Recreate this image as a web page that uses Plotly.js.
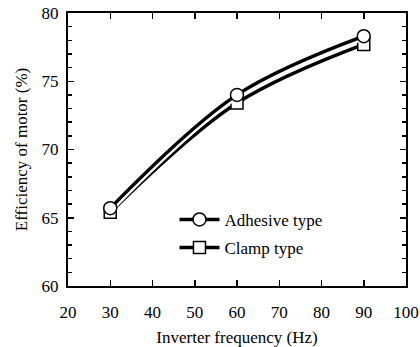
<!DOCTYPE html>
<html><head><meta charset="utf-8">
<script src="https://cdn.plot.ly/plotly-3.0.1.min.js"></script>
<style>html,body{margin:0;padding:0;background:#fff}
#chart text{font-family:'Liberation Serif',serif !important;fill:#000 !important}</style>
</head><body><div id="chart" style="width:420px;height:347px"></div>
<script>
const frequency = [30, 60, 90];
const adhesiveEff = [65.7, 74.0, 78.3];
const clampEff = [65.4, 73.4, 77.7];
const xTicks = [20, 30, 40, 50, 60, 70, 80, 90, 100];
const yTicks = [60, 65, 70, 75, 80];

function halo(y) {
  return {x: frequency, y: y, mode: 'lines', showlegend: false, hoverinfo: 'skip',
          line: {color: '#fff', width: 8, shape: 'spline', smoothing: 1}};
}

const traces = [
  halo(clampEff),
  {x: frequency, y: clampEff, name: 'Clamp type', mode: 'lines+markers',
   legendgroup: 'b', legendrank: 2,
   line: {color: '#000', width: 3.5, shape: 'spline', smoothing: 1},
   marker: {symbol: 'square', size: 12, color: '#fff', line: {color: '#000', width: 1.5}}},
  halo(adhesiveEff),
  {x: frequency, y: adhesiveEff, name: 'Adhesive type', mode: 'lines+markers',
   legendgroup: 'a', legendrank: 1,
   line: {color: '#000', width: 3.5, shape: 'spline', smoothing: 1},
   marker: {symbol: 'circle', size: 13, color: '#fff', line: {color: '#000', width: 1.5}}}
];

const layout = {
  width: 420, height: 347,
  margin: {l: 68, r: 14, t: 13, b: 61},
  font: {family: 'Liberation Serif', size: 17},
  showlegend: true,
  legend: {x: 0.315, y: 0.308, xanchor: 'left', yanchor: 'top', bgcolor: 'rgba(0,0,0,0)',
           font: {family: 'Liberation Serif', size: 17},
           traceorder: 'grouped', tracegroupgap: 3, itemwidth: 40},
  xaxis: {range: [20, 100], tickvals: xTicks, ticktext: xTicks.map(String),
          tickfont: {family: 'Liberation Serif', size: 17},
          ticklabelstandoff: 10,
          ticks: 'inside', ticklen: 6, tickwidth: 1.5, tickcolor: '#000',
          showline: true, linewidth: 2, linecolor: '#000', mirror: 'ticks',
          showgrid: false, zeroline: false,
          title: {text: 'Inverter frequency (Hz)', font: {family: 'Liberation Serif', size: 17}, standoff: 10}},
  yaxis: {range: [60, 80], tickvals: yTicks, ticktext: yTicks.map(String),
          tickfont: {family: 'Liberation Serif', size: 17},
          ticklabelstandoff: 4,
          ticks: 'inside', ticklen: 6, tickwidth: 1.5, tickcolor: '#000',
          minor: {dtick: 1, ticks: 'inside', ticklen: 4, tickwidth: 1.5, tickcolor: '#000'},
          showline: true, linewidth: 2, linecolor: '#000', mirror: 'ticks',
          showgrid: false, zeroline: false,
          title: {text: 'Efficiency of motor (%)', font: {family: 'Liberation Serif', size: 17}, standoff: 10}}
};

Plotly.newPlot('chart', traces, layout, {staticPlot: true});
</script></body></html>
